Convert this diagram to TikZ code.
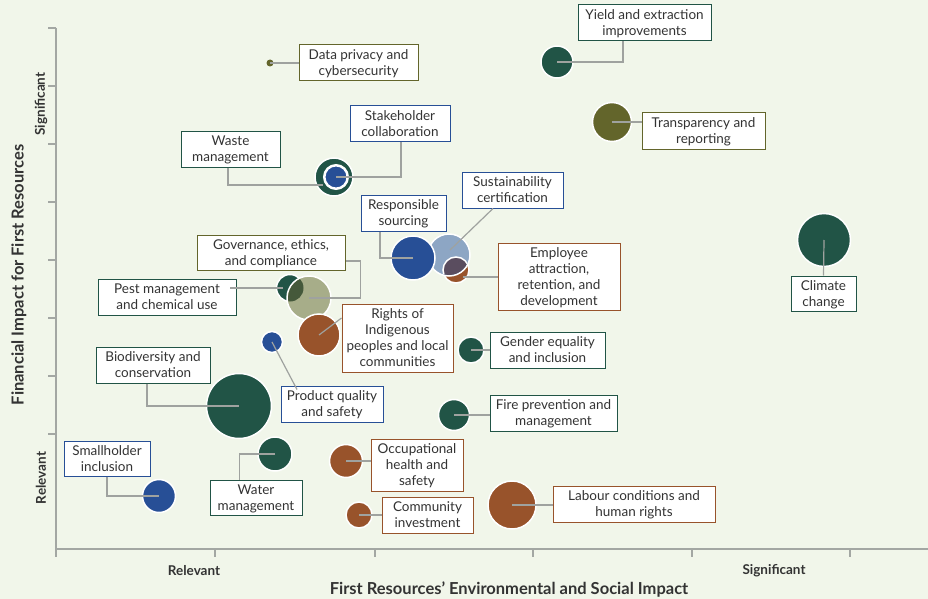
\documentclass[tikz,border=0pt]{standalone}
\usepackage{fontspec}
\setmainfont{Lato}

\definecolor{bgc}{HTML}{F1F6EA}
\definecolor{txtc}{HTML}{333333}
\definecolor{axisc}{HTML}{A3A7A3}
\definecolor{linkc}{HTML}{9FA29F}
\definecolor{dkgreen}{HTML}{215446}
\definecolor{bluec}{HTML}{274F96}
\definecolor{olivec}{HTML}{63652B}
\definecolor{brownc}{HTML}{98532B}
\definecolor{sagec}{HTML}{A7AD89}
\definecolor{lbluec}{HTML}{8DA6C4}
\definecolor{mixgreen}{HTML}{45593B}
\definecolor{mixpurple}{HTML}{5A4D5F}

\begin{document}
\begin{tikzpicture}[x=1pt, y=-1pt,
  bubble/.style={circle, draw=white, line width=1.5pt, inner sep=0pt, minimum size=#1},
  topic/.style={draw=#1, fill=white, line width=1pt, inner sep=0pt, align=center,
    text=txtc, font=\fontsize{13.5}{16}\selectfont, text depth=-8pt},
  link/.style={draw=linkc, line width=1.2pt},
  axline/.style={draw=axisc, line width=1.3pt},
  axlabel/.style={text=txtc, font=\bfseries\fontsize{13.5}{15}\selectfont},
  axtitle/.style={text=txtc, font=\bfseries\fontsize{16.5}{18}\selectfont}]

  % background and frame
  \fill[bgc] (0,0) rectangle (928,599);
  \useasboundingbox (0,0) rectangle (928,599);

  % axes
  \draw[axline] (56,28) -- (56,557);
  \draw[axline] (56,549) -- (928,549);
  \foreach \ty in {28,86,144,202,260,318,376,434}
    \draw[axline] (48,\ty) -- (56,\ty);
  \foreach \tx in {215,375,533,692,850}
    \draw[axline] (\tx,549) -- (\tx,557);

  \node[axlabel, rotate=90] (ysig) at (41,104) {Significant};
  \node[axlabel, rotate=90] (yrel) at (41,478) {Relevant};
  \node[axlabel] (xrel) at (194,571) {Relevant};
  \node[axlabel] (xsig) at (774,571) {Significant};
  \node[axtitle, rotate=90] (ytitle) at (19,275) {Financial Impact for First Resources};
  \node[axtitle] (xtitle) at (509,590) {First Resources’ Environmental and Social Impact};

  % bubbles
  \node[circle, fill=olivec, inner sep=0pt, minimum size=7pt] (privacy) at (270,63) {};
  \node[bubble=32pt, fill=dkgreen] (yield) at (557,62) {};
  \node[bubble=39pt, fill=olivec] (transp) at (612,122) {};
  \node[bubble=53pt, fill=dkgreen] (climate) at (824,240) {};
  \node[bubble=38pt, fill=dkgreen] (waste) at (334,177) {};
  \node[circle, fill=bluec, draw=white, line width=2.5pt, inner sep=0pt, minimum size=23.5pt] (stake) at (336,177) {};
  \node[bubble=26pt, fill=brownc] (emp) at (456,270) {};
  \node[bubble=42pt, fill=lbluec] (sust) at (449,255) {};
  \begin{scope}
    \clip (sust.center) circle[radius=20pt];
    \fill[mixpurple] (emp.center) circle[radius=13pt];
    \draw[white, line width=1.5pt] (emp.center) circle[radius=13pt];
  \end{scope}
  \node[bubble=44pt, fill=bluec] (resp) at (413,258) {};
  \node[bubble=27pt, fill=dkgreen] (pest) at (290,288) {};
  \node[bubble=44pt, fill=sagec] (gov) at (309,298) {};
  \begin{scope}
    \clip (gov.center) circle[radius=21pt];
    \fill[mixgreen] (pest.center) circle[radius=13.5pt];
  \end{scope}
  \node[bubble=42pt, fill=brownc] (rights) at (319,335) {};
  \node[bubble=21pt, fill=bluec] (product) at (272,342) {};
  \node[bubble=26pt, fill=dkgreen] (gender) at (471,350) {};
  \node[bubble=65pt, fill=dkgreen] (bio) at (239,406) {};
  \node[bubble=31pt, fill=dkgreen] (fire) at (454,415) {};
  \node[bubble=33pt, fill=bluec] (small) at (159,496) {};
  \node[bubble=34pt, fill=dkgreen] (water) at (275,454) {};
  \node[bubble=33pt, fill=brownc] (occ) at (346,461) {};
  \node[bubble=26pt, fill=brownc] (comm) at (359,515) {};
  \node[bubble=48pt, fill=brownc] (labour) at (512,505) {};

  % label boxes
  \node[topic=olivec, minimum width=119pt, minimum height=36pt] (privacybox) at (358.5,63) {Data privacy and\\cybersecurity};
  \node[topic=dkgreen, minimum width=133pt, minimum height=36pt] (yieldbox) at (644.5,23) {Yield and extraction\\improvements};
  \node[topic=olivec, minimum width=123pt, minimum height=36pt] (transpbox) at (703.5,131) {Transparency and\\reporting};
  \node[topic=bluec, minimum width=100pt, minimum height=35pt] (stakebox) at (400,123.5) {Stakeholder\\collaboration};
  \node[topic=dkgreen, minimum width=99pt, minimum height=36pt] (wastebox) at (230.5,149) {Waste\\management};
  \node[topic=bluec, minimum width=101pt, minimum height=36pt] (sustbox) at (512.5,190) {Sustainability\\certification};
  \node[topic=bluec, minimum width=85pt, minimum height=36pt] (respbox) at (403.5,213) {Responsible\\sourcing};
  \node[topic=olivec, minimum width=148pt, minimum height=35pt] (govbox) at (271,252.5) {Governance, ethics,\\and compliance};
  \node[topic=brownc, minimum width=122pt, minimum height=67pt] (empbox) at (559,276.5) {Employee\\attraction,\\retention, and\\development};
  \node[topic=dkgreen, minimum width=65pt, minimum height=35pt] (climatebox) at (823.5,293.5) {Climate\\change};
  \node[topic=dkgreen, minimum width=138pt, minimum height=36pt] (pestbox) at (167,297) {Pest management\\and chemical use};
  \node[topic=brownc, minimum width=111pt, minimum height=68pt] (rightsbox) at (397.5,338) {Rights of\\Indigenous\\peoples and local\\communities};
  \node[topic=dkgreen, minimum width=115pt, minimum height=36pt] (genderbox) at (547.5,350) {Gender equality\\and inclusion};
  \node[topic=dkgreen, minimum width=114pt, minimum height=36pt] (biobox) at (153,365) {Biodiversity and\\conservation};
  \node[topic=bluec, minimum width=102pt, minimum height=36pt] (productbox) at (332,404) {Product quality\\and safety};
  \node[topic=dkgreen, minimum width=127pt, minimum height=36pt] (firebox) at (553.5,413) {Fire prevention and\\management};
  \node[topic=bluec, minimum width=86pt, minimum height=35pt] (smallbox) at (107,458.5) {Smallholder\\inclusion};
  \node[topic=brownc, minimum width=92pt, minimum height=52pt] (occbox) at (417,465) {Occupational\\health and\\safety};
  \node[topic=dkgreen, minimum width=92pt, minimum height=35pt] (waterbox) at (256,497.5) {Water\\management};
  \node[topic=brownc, minimum width=162pt, minimum height=36pt] (labourbox) at (634,504) {Labour conditions and\\human rights};
  \node[topic=brownc, minimum width=91pt, minimum height=36pt] (commbox) at (427.5,515) {Community\\investment};

  % connectors
  \coordinate (wasteend) at (323,185);
  \draw[link] (privacy.center) -- (privacybox.west);
  \draw[link] (yield.center) -| ([shift={(-21.5,0)}]yieldbox.south);
  \draw[link] (transp.center) -- (transp.center -| transpbox.west);
  \draw[link] (climate.center) -- (climatebox.north);
  \draw[link] (stake.center) -| ([shift={(1,0)}]stakebox.south);
  \draw[link] ([shift={(-2.5,0)}]wastebox.south) |- (wasteend);
  \draw[link] ([shift={(1,-5)}]sust.center) -- ([shift={(-19.5,0)}]sustbox.south);
  \draw[link] ([shift={(-23.5,0)}]respbox.south) |- (resp.center);
  \draw[link] ([shift={(7,7)}]emp.center) -- ([shift={(0,7)}]emp.center -| empbox.west);
  \draw[link] (gov.center) -| ([shift={(15,8.5)}]govbox.east) -- ([shift={(0,8.5)}]govbox.east);
  \draw[link] ([shift={(-7,0)}]pest.center) -- ([shift={(-7,0)}]pest.center -| pestbox.east);
  \draw[link] (rights.center) -- ([shift={(0,-20)}]rightsbox.west);
  \draw[link] (product.center) -- ([shift={(-35,4)}]productbox.north);
  \draw[link] (gender.center) -- (gender.center -| genderbox.west);
  \draw[link] ([shift={(-6,0)}]biobox.south) |- (bio.center);
  \draw[link] (fire.center) -- (fire.center -| firebox.west);
  \draw[link] (smallbox.south) |- (small.center);
  \draw[link] (water.center) -| ([shift={(-16.5,0)}]waterbox.north);
  \draw[link] (occ.center) -- (occ.center -| occbox.west);
  \draw[link] (comm.center) -- (comm.center -| commbox.west);
  \draw[link] (labour.center) -- (labour.center -| labourbox.west);

\end{tikzpicture}
\end{document}
